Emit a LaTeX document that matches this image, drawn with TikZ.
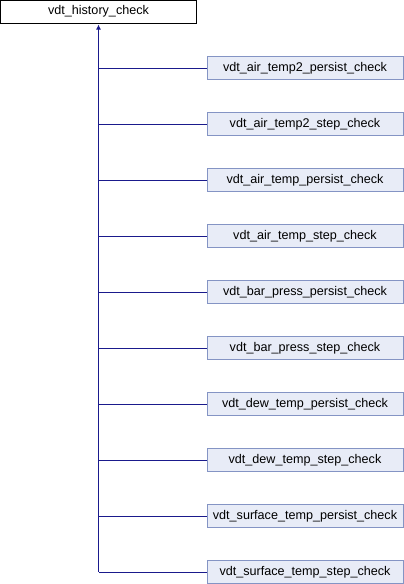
\documentclass[tikz,border=0pt]{standalone}
\usepackage{fontspec}
\setmainfont{Liberation Sans}
\usetikzlibrary{arrows.meta}

\definecolor{linknavy}{HTML}{1A1A8C}
\definecolor{boxfill}{HTML}{E8ECF7}
\definecolor{boxedge}{HTML}{8494C4}

\begin{document}
\begin{tikzpicture}[x=1pt,y=-1pt,line width=1pt,
    basebox/.style={draw=black,fill=white,minimum width=196pt,minimum height=23pt,inner sep=0pt,font=\fontsize{12.6}{14}\selectfont},
    childbox/.style={draw=boxedge,fill=boxfill,minimum width=196pt,minimum height=23pt,inner sep=0pt,font=\fontsize{12.6}{14}\selectfont},
    >={Latex[length=5pt,width=5pt]}]
  \useasboundingbox (0,0) rectangle (404,584);
  % clase base
  \node[basebox] (base) at (98.5,11.5) {vdt\_history\_check};
  \coordinate (trunk) at (98.5,572);
  % clases derivadas
  \foreach \name [count=\i from 0] in {vdt\_air\_temp2\_persist\_check,vdt\_air\_temp2\_step\_check,vdt\_air\_temp\_persist\_check,vdt\_air\_temp\_step\_check,vdt\_bar\_press\_persist\_check,vdt\_bar\_press\_step\_check,vdt\_dew\_temp\_persist\_check,vdt\_dew\_temp\_step\_check,vdt\_surface\_temp\_persist\_check,vdt\_surface\_temp\_step\_check}
  {
    \node[childbox] (child\i) at (305,68+56*\i) {\name};
    \draw[linknavy] (child\i.west) -- (trunk |- child\i.west);
  }
  % linea de herencia
  \draw[->,linknavy] (trunk) -- ([yshift=-1pt]base.south);
\end{tikzpicture}
\end{document}
